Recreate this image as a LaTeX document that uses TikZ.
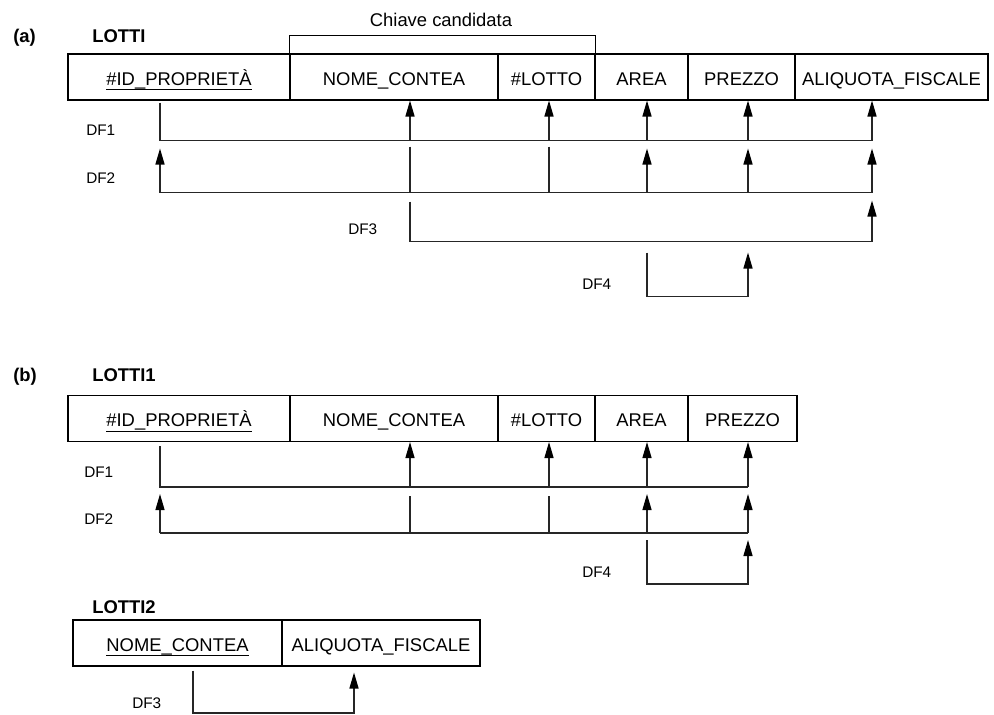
\documentclass[tikz,border=0pt]{standalone}
\usepackage{fontspec}
\setmainfont{Liberation Sans}
\usetikzlibrary{arrows.meta,calc}

% attribute of the primary key: underlined text
\newcommand\keyattr[1]{\setbox0=\hbox{#1}\rlap{\rule[-4pt]{\wd0}{0.7pt}}\box0}

\begin{document}
\begin{tikzpicture}[x=0.75pt,y=-0.75pt,
  cell/.style={draw=black,line width=0.8pt,inner sep=0pt,minimum height=34.5pt,
    text height=12pt,text depth=0pt,font=\fontsize{13.8pt}{16pt}\selectfont},
  title/.style={inner sep=0pt,anchor=base west,font=\fontsize{13.8pt}{16pt}\selectfont\bfseries},
  dflabel/.style={inner sep=0pt,anchor=base west,font=\fontsize{11.5pt}{14pt}\selectfont},
  conn/.style={draw=black!85,line width=0.9pt},
  arr/.style={conn,-{Triangle[length=12pt,width=6.8pt,color=black]}}]
\useasboundingbox (0,0) rectangle (994,714);

% ---------------- (a) LOTTI ----------------
\node[title] (pa) at (13,42) {(a)};
\node[title] (ta) at (92,42) {LOTTI};

\node[cell,minimum width=166.5pt] (a1) at (179,77)   {\keyattr{\#ID\_PROPRIETÀ}};
\node[cell,minimum width=156pt]   (a2) at (394,77)   {NOME\_CONTEA};
\node[cell,minimum width=72.75pt] (a3) at (546.5,77) {\#LOTTO};
\node[cell,minimum width=69.75pt] (a4) at (641.5,77) {AREA};
\node[cell,minimum width=80.25pt] (a5) at (741.5,77) {PREZZO};
\node[cell,minimum width=144.75pt](a6) at (891.5,77) {ALIQUOTA\_FISCALE};

% candidate key bracket
\node[inner sep=0pt,anchor=base,font=\fontsize{13.8pt}{16pt}\selectfont] (ck) at (441,26.5) {Chiave candidata};
\draw[line width=0.8pt] (a2.north west) -- ++(0,-18) -| (a3.north east);

\coordinate (a1p) at ($(a1.south)+(-19,0)$);
\coordinate (a2p) at ($(a2.south)+(16,0)$);
\coordinate (a3p) at ($(a3.south)+(2.5,0)$);
\coordinate (a4p) at ($(a4.south)+(5.5,0)$);
\coordinate (a5p) at ($(a5.south)+(6.5,0)$);
\coordinate (a6p) at ($(a6.south)+(-19.5,0)$);

% DF1
\node[dflabel] (dfa1) at (86,135) {DF1};
\draw[conn] ($(a1p)+(0,2)$) |- ($(a6p)+(0,40)$);
\foreach \p in {a2p,a3p,a4p,a5p,a6p}
  \draw[arr] ($(\p)+(0,40)$) -- (\p);

% DF2
\node[dflabel] (dfa2) at (86,183) {DF2};
\draw[conn] ($(a1p)+(0,92)$) -- ($(a6p)+(0,92)$);
\draw[arr] ($(a1p)+(0,92)$) -- ($(a1p)+(0,48)$);
\foreach \p in {a2p,a3p}
  \draw[conn] ($(\p)+(0,46)$) -- ($(\p)+(0,92)$);
\foreach \p in {a4p,a5p,a6p}
  \draw[arr] ($(\p)+(0,92)$) -- ($(\p)+(0,48)$);

% DF3
\node[dflabel] (dfa3) at (348,234) {DF3};
\draw[arr] ($(a2p)+(0,101)$) |- ($(a6p)+(0,141)$) -- ($(a6p)+(0,100)$);

% DF4
\node[dflabel] (dfa4) at (582,289) {DF4};
\draw[arr] ($(a4p)+(0,152)$) |- ($(a5p)+(0,196)$) -- ($(a5p)+(0,152)$);

% ---------------- (b) LOTTI1 ----------------
\node[title] (pb) at (13,381) {(b)};
\node[title] (tb) at (92,381) {LOTTI1};

\node[cell,minimum width=166.5pt] (b1) at (179,418.5)   {\keyattr{\#ID\_PROPRIETÀ}};
\node[cell,minimum width=156pt]   (b2) at (394,418.5)   {NOME\_CONTEA};
\node[cell,minimum width=72.75pt] (b3) at (546.5,418.5) {\#LOTTO};
\node[cell,minimum width=69.75pt] (b4) at (641.5,418.5) {AREA};
\node[cell,minimum width=81.75pt] (b5) at (742.5,418.5) {PREZZO};

\coordinate (b1p) at ($(b1.south)+(-19,0)$);
\coordinate (b2p) at ($(b2.south)+(16,0)$);
\coordinate (b3p) at ($(b3.south)+(2.5,0)$);
\coordinate (b4p) at ($(b4.south)+(5.5,0)$);
\coordinate (b5p) at ($(b5.south)+(5.5,0)$);

% DF1
\node[dflabel] (dfb1) at (84,477) {DF1};
\draw[conn] ($(b1p)+(0,4)$) |- ($(b5p)+(0,45)$);
\foreach \p in {b2p,b3p,b4p,b5p}
  \draw[arr] ($(\p)+(0,45)$) -- (\p);

% DF2
\node[dflabel] (dfb2) at (84,524) {DF2};
\draw[conn] ($(b1p)+(0,91)$) -- ($(b5p)+(0,91)$);
\draw[arr] ($(b1p)+(0,91)$) -- ($(b1p)+(0,52)$);
\foreach \p in {b2p,b3p}
  \draw[conn] ($(\p)+(0,54)$) -- ($(\p)+(0,91)$);
\foreach \p in {b4p,b5p}
  \draw[arr] ($(\p)+(0,91)$) -- ($(\p)+(0,52)$);

% DF4
\node[dflabel] (dfb4) at (582,577) {DF4};
\draw[arr] ($(b4p)+(0,98)$) |- ($(b5p)+(0,142)$) -- ($(b5p)+(0,98)$);

% ---------------- LOTTI2 ----------------
\node[title] (tc) at (92,613) {LOTTI2};

\node[cell,minimum width=156.75pt] (c1) at (177.5,643) {\keyattr{NOME\_CONTEA}};
\node[cell,minimum width=148.5pt]  (c2) at (381,643)   {ALIQUOTA\_FISCALE};

\coordinate (c1p) at ($(c1.south)+(15.5,0)$);
\coordinate (c2p) at ($(c2.south)+(-27,0)$);

% DF3
\node[dflabel] (dfc3) at (132,708) {DF3};
\draw[arr] ($(c1p)+(0,4)$) |- ($(c2p)+(0,46.5)$) -- ($(c2p)+(0,6)$);
\end{tikzpicture}
\end{document}
